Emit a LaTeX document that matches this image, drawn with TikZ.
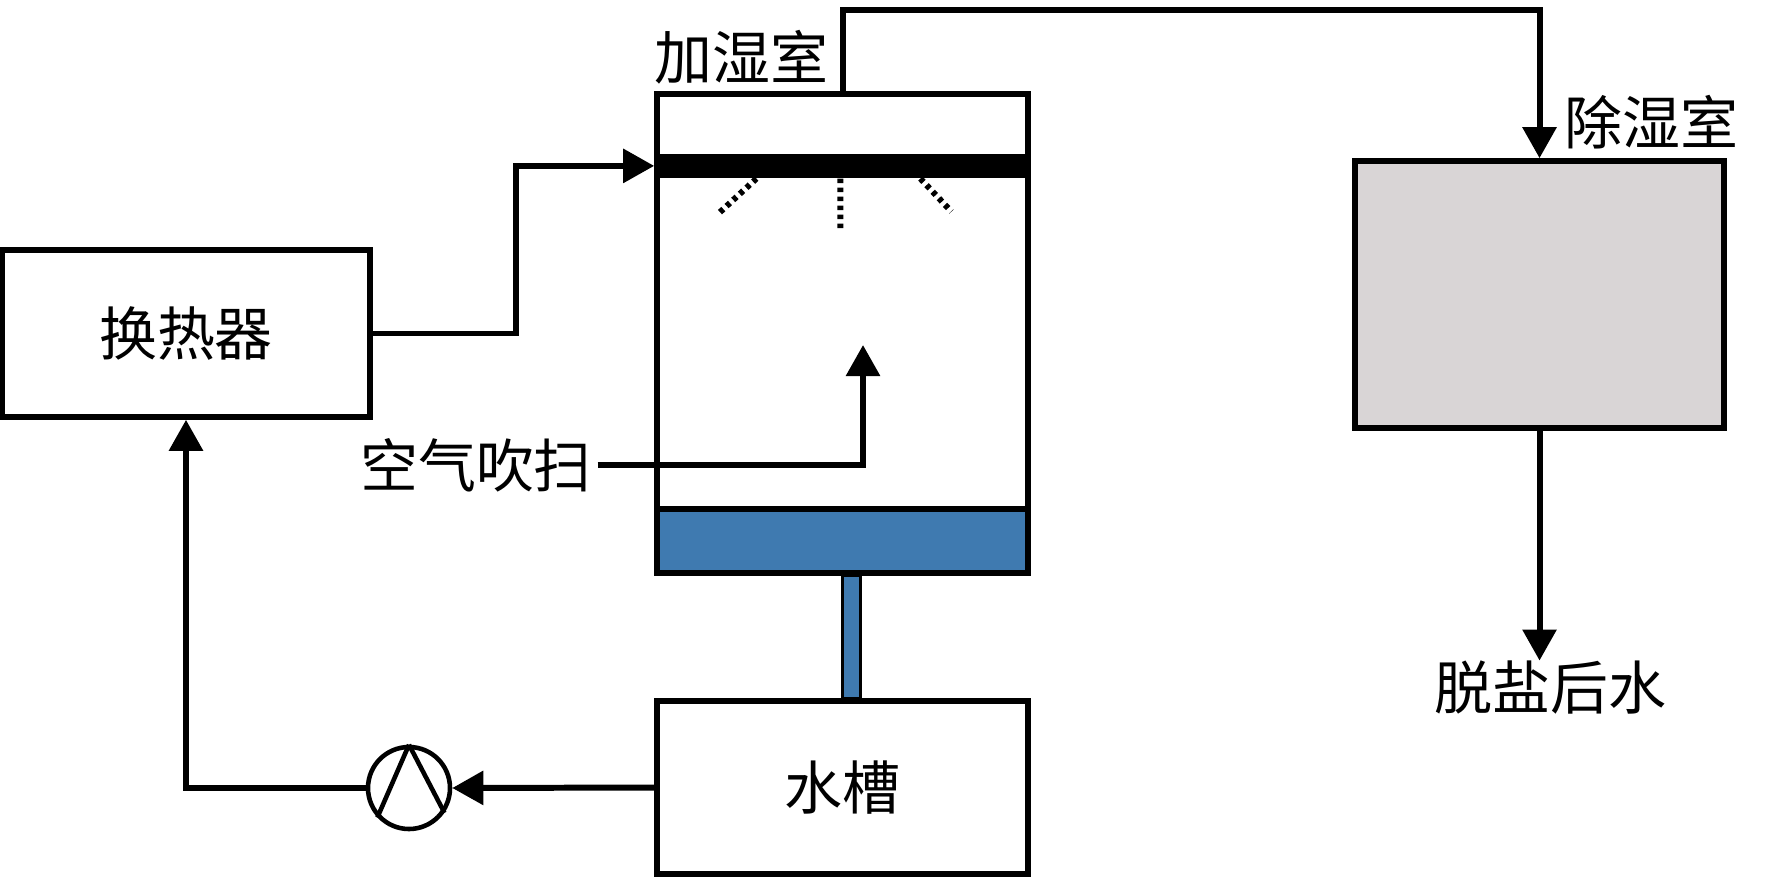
\documentclass[tikz,border=0pt]{standalone}
\usepackage{fontspec}
\newfontfamily\cjk{Noto Sans CJK SC}
\usetikzlibrary{arrows.meta}
\definecolor{water}{HTML}{3F7AB0}
\definecolor{chamber}{HTML}{D9D5D6}
\tikzset{
  unit/.style={draw,line width=1.6pt,inner sep=0pt,font=\cjk\fontsize{16.5}{20}\selectfont},
  lbl/.style={inner sep=0pt,font=\cjk\fontsize{16.5}{20}\selectfont},
  pipe/.style={line width=1.7pt,-{Triangle[length=3.1mm,width=3.3mm]}},
  spray/.style={line width=0.6mm,dash pattern=on 0.45mm off 0.45mm}
}
\begin{document}
\begin{tikzpicture}[x=0.1mm,y=-0.1mm]
\useasboundingbox (0,0) rectangle (1772,877);
% units
\node[unit,minimum width=36.8mm,minimum height=16.7mm] (hx) at (186,333.5) {换热器};
\node[unit,minimum width=37.1mm,minimum height=47.9mm] (hum) at (842.5,333.5) {};
\node[unit,fill=water,minimum width=37.1mm,minimum height=6.4mm,anchor=south] (pool) at (hum.south) {};
\node[unit,minimum width=37.1mm,minimum height=17.3mm] (tank) at (842.5,787.5) {水槽};
\node[unit,fill=chamber,minimum width=36.9mm,minimum height=26.7mm] (dehum) at (1539.5,294.5) {};
\node[draw,circle,line width=1.3pt,minimum size=8.2mm,inner sep=0pt] (pump) at (409,788) {};
\draw[line width=1.3pt] (pump.north)--(pump.-137) (pump.north)--(pump.-35);
% membrane and sprays
\node[fill=black,inner sep=0pt,minimum width=37.1mm,minimum height=2.4mm,anchor=north west] (membrane) at ([yshift=-6.2mm]hum.north west) {};
\draw[spray]
    ([xshift=-8.4mm]membrane.south)--++(-38,35)
    (membrane.south)--++(0,50)
    ([xshift=8mm]membrane.south)--++(31,33);
\draw[line width=0.6pt,fill=water] (pool.south) rectangle ([xshift=1.8mm]tank.north);
% labels
\node[lbl] (humlbl) at (741,57) {加湿室};
\node[lbl] (dehumlbl) at (1651,122) {除湿室};
\node[lbl] (air) at (476,465) {空气吹扫};
\node[lbl] (out) at (1550,688) {脱盐后水};
\coordinate (airtip) at (863,345);
% flows
\draw[pipe] (hx.east)--++(143,0) |- (membrane.west);
\draw[pipe] (hum.north)--++(0,-81) -| (dehum.north);
\draw[pipe] ([xshift=0.5mm]air.east) -| (airtip);
\draw[pipe] (dehum.south)--(dehum.south |- out.north);
\draw[pipe] (tank.west)--(pump.east);
\draw[pipe] (pump.west) -| (hx.south);
\end{tikzpicture}
\end{document}
